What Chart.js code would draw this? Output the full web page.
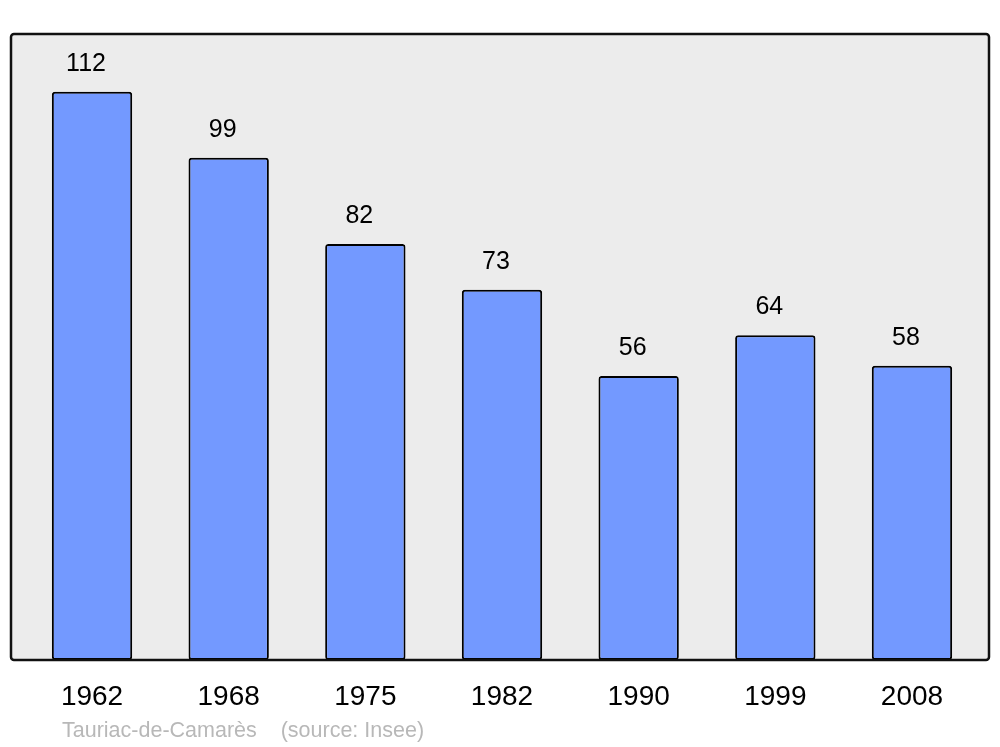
<!DOCTYPE html>
<html>
<head>
<meta charset="utf-8">
<script src="https://cdn.jsdelivr.net/npm/chart.js@4"></script>
<style>
html,body{margin:0;padding:0;background:#fff;}
#wrap{width:1000px;height:747px;position:relative;}
</style>
</head>
<body>
<div id="wrap"><canvas id="c" width="1000" height="747"></canvas></div>
<script>
const years = ["1962","1968","1975","1982","1990","1999","2008"];
const population = [112, 99, 82, 73, 56, 64, 58];
const footerText = "Tauriac-de-Camarès    (source: Insee)";

const boxPlugin = {
  id: 'box',
  beforeDatasetsDraw(chart) {
    const {ctx, chartArea: a} = chart;
    const l = a.left - 12.7, r = a.right + 8.7, t = a.top, b = a.bottom;
    ctx.save();
    ctx.beginPath();
    ctx.roundRect(l, t, r - l, b - t, 3);
    ctx.fillStyle = '#ececec';
    ctx.fill();
    ctx.restore();
  },
  afterDatasetsDraw(chart) {
    const {ctx, chartArea: a} = chart;
    const l = a.left - 12.7, r = a.right + 8.7, t = a.top, b = a.bottom;
    ctx.save();
    ctx.beginPath();
    ctx.roundRect(l, t, r - l, b - t, 3);
    ctx.lineWidth = 2.5;
    ctx.strokeStyle = '#111111';
    ctx.stroke();
    // value labels
    const meta = chart.getDatasetMeta(0);
    ctx.fillStyle = '#000';
    ctx.font = '25px "Liberation Sans", Arial, sans-serif';
    ctx.textAlign = 'center';
    ctx.textBaseline = 'middle';
    meta.data.forEach((bar, i) => {
      ctx.fillText(String(population[i]), bar.x - 6, bar.y - 28);
    });
    // footer
    ctx.fillStyle = '#b8b8b8';
    ctx.font = '21.5px "Liberation Sans", Arial, sans-serif';
    ctx.textAlign = 'left';
    ctx.fillText(footerText, 62, 731);
    ctx.restore();
  }
};

new Chart(document.getElementById('c'), {
  type: 'bar',
  data: {
    labels: years,
    datasets: [{
      data: population,
      backgroundColor: '#7399ff',
      borderColor: '#000000',
      borderWidth: 2,
      borderRadius: 3,
      borderSkipped: false,
      barPercentage: 0.588,
      categoryPercentage: 1
    }]
  },
  options: {
    responsive: false,
    animation: false,
    layout: {padding: {left: 23.7, right: 19.7, top: 34, bottom: 13.4}},
    plugins: {legend: {display: false}, tooltip: {enabled: false}},
    scales: {
      x: {
        grid: {display: false, drawTicks: false},
        border: {display: false},
        ticks: {
          color: '#000',
          padding: 20,
          font: {family: '"Liberation Sans", Arial, sans-serif', size: 28}
        }
      },
      y: {display: false, min: 0, max: 123.4}
    }
  },
  plugins: [boxPlugin]
});
</script>
</body>
</html>
